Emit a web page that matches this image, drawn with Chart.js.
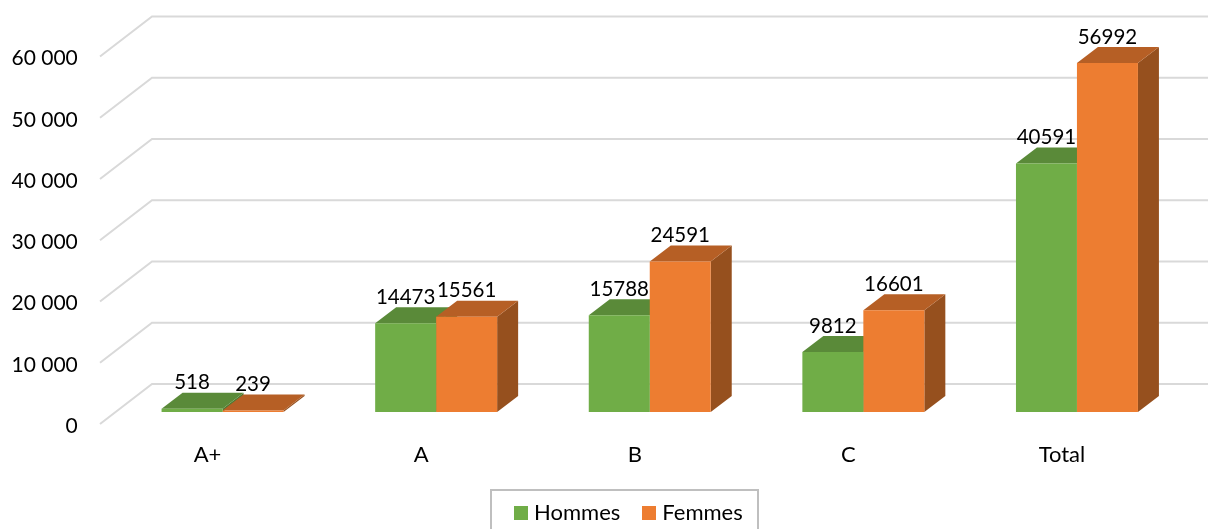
<!DOCTYPE html>
<html>
<head>
<meta charset="utf-8">
<style>
  html, body { margin: 0; padding: 0; background: #fff; overflow: hidden; }
  canvas { display: block; }
</style>
<script src="https://cdn.jsdelivr.net/npm/chart.js@4/dist/chart.umd.min.js"></script>
</head>
<body>
<canvas id="chart" width="1208" height="529"></canvas>
<script>
const categories = ["A+", "A", "B", "C", "Total"];
const hommes = [518, 14473, 15788, 9812, 40591];
const femmes = [239, 15561, 24591, 16601, 56992];
const yTickLabels = ["0", "10 000", "20 000", "30 000", "40 000", "50 000", "60 000"];

const fontName = "Lato";
const textColor = "#000000";
const gridColor = "#d9d9d9";
const depthX = 21, depthY = 16;   // bar depth
const wallX = 52, wallY = 40;     // floor diagonal

function face(ctx, color, pts) {
  ctx.fillStyle = color;
  ctx.beginPath();
  pts.forEach((p, i) => i ? ctx.lineTo(p[0], p[1]) : ctx.moveTo(p[0], p[1]));
  ctx.closePath();
  ctx.fill();
}

// legend square, as an image so that it can sit closer to its text
function swatch(color) {
  const c = document.createElement("canvas");
  c.width = 14;
  c.height = 14;
  const g = c.getContext("2d");
  g.fillStyle = color;
  g.fillRect(0, 0, 14, 14);
  return c;
}

const walls = {
  id: "walls",
  afterLayout(chart) {
    // legend sits right of the centre in the original
    const lg = chart.legend;
    lg.left += 39;
    lg.right += 39;
    lg.top = 475;
  },
  beforeDatasetsDraw(chart) {
    const { ctx, scales } = chart;
    ctx.save();
    ctx.strokeStyle = gridColor;
    ctx.lineWidth = 2;
    scales.y.ticks.forEach(t => {
      const y = scales.y.getPixelForValue(t.value);
      ctx.beginPath();
      ctx.moveTo(100, y + 12);
      ctx.lineTo(100 + wallX, y + 12 - wallY);
      ctx.lineTo(chart.width, y + 12 - wallY);
      ctx.stroke();
    });
    ctx.restore();

    // top and side faces, left bar first; the library paints the fronts after this
    categories.forEach((c, j) => {
      chart.data.datasets.forEach((ds, i) => {
        const bar = chart.getDatasetMeta(i).data[j];
        const x0 = bar.x - bar.width / 2, x1 = bar.x + bar.width / 2;
        const top = bar.y, base = bar.base;
        face(ctx, ds.sideColor, [[x1, top], [x1 + depthX, top - depthY], [x1 + depthX, base - depthY], [x1, base]]);
        face(ctx, ds.topColor, [[x0, top], [x1, top], [x1 + depthX, top - depthY], [x0 + depthX, top - depthY]]);
      });
    });
  },
  afterDatasetsDraw(chart) {
    const { ctx } = chart;
    ctx.save();
    ctx.font = "20.5px " + fontName;
    ctx.fillStyle = textColor;
    ctx.textAlign = "center";
    ctx.textBaseline = "middle";
    chart.data.datasets.forEach((ds, i) => {
      chart.getDatasetMeta(i).data.forEach((bar, j) => {
        ctx.fillText(String(ds.data[j]), bar.x, bar.y - 26);
      });
    });
    ctx.restore();
  },
  afterDraw(chart) {
    const { ctx } = chart;
    ctx.save();
    ctx.strokeStyle = "#bfbfbf";
    ctx.lineWidth = 2;
    ctx.strokeRect(491, 490, 267, 60);
    ctx.restore();
  }
};

new Chart(document.getElementById("chart"), {
  type: "bar",
  data: {
    labels: categories,
    datasets: [
      { label: "Hommes", data: hommes, backgroundColor: "#70ad47", topColor: "#5a8a39", sideColor: "#4f7a32" },
      { label: "Femmes", data: femmes, backgroundColor: "#ed7d31", topColor: "#b65f25", sideColor: "#96501e" }
    ]
  },
  plugins: [walls],
  options: {
    responsive: false,
    animation: false,
    layout: { padding: { top: 44.5, right: 24.25, left: 0, bottom: 0 } },
    datasets: { bar: { categoryPercentage: 0.571, barPercentage: 1 } },
    scales: {
      x: {
        grid: { display: false },
        border: { display: false },
        afterFit: s => { s.height = 58; },
        ticks: {
          padding: 22,
          labelOffset: -15,
          maxRotation: 0,
          color: textColor,
          font: { family: fontName, size: 22 }
        }
      },
      y: {
        min: 0,
        max: 60000,
        grid: { display: false },
        border: { display: false },
        afterFit: s => { s.width = 115.75; },
        ticks: {
          stepSize: 10000,
          padding: 30,
          labelOffset: 14,
          color: textColor,
          font: { family: fontName, size: 21 },
          callback: (v, i) => yTickLabels[i]
        }
      }
    },
    plugins: {
      tooltip: { enabled: false },
      legend: {
        position: "bottom",
        labels: {
          usePointStyle: true,
          pointStyleWidth: 4,
          padding: 27,
          color: textColor,
          font: { family: fontName, size: 22 },
          generateLabels: chart => Chart.defaults.plugins.legend.labels.generateLabels(chart)
            .map(item => ({ ...item, pointStyle: swatch(item.fillStyle) }))
        }
      }
    }
  }
});
</script>
</body>
</html>
